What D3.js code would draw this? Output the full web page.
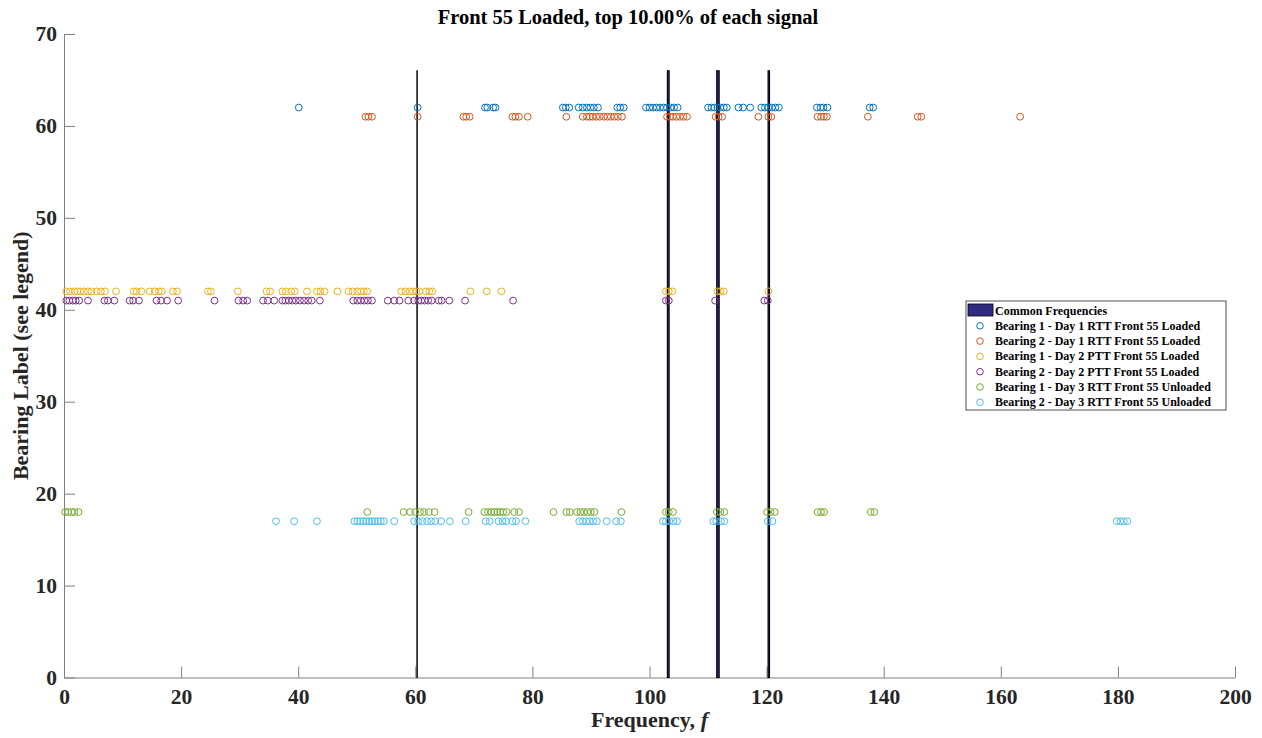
<!DOCTYPE html>
<html>
<head>
<meta charset="utf-8">
<script src="https://cdn.jsdelivr.net/npm/d3@7"></script>
<style>
  body { margin: 0; background: #fff; }
  svg { font-family: "Liberation Serif", "Times New Roman", serif; font-weight: bold; }
</style>
</head>
<body>
<svg id="chart" width="1262" height="738"></svg>
<script>
// Peak frequencies (top 10% of each signal) per bearing/day run
const b1Day1 = [40.1, 60.4, 71.9, 72.3, 73.3, 73.7, 85.2, 85.7, 86.3, 87.9, 88.6, 89.3, 89.9, 90.5, 91.2, 94.5, 95.0, 95.6,
  99.4, 100.0, 100.6, 101.2, 101.8, 102.4, 103.0, 103.6, 104.2, 104.8, 110.0, 110.6, 111.1, 111.6, 112.1, 112.7, 113.2,
  115.2, 116.0, 117.2, 119.1, 119.7, 120.3, 120.9, 121.5, 122.1, 128.6, 129.2, 129.7, 130.4, 137.6, 138.2];
const b2Day1 = [51.5, 52.0, 52.6, 60.4, 68.2, 68.7, 69.3, 76.6, 77.1, 77.7, 79.2, 85.8, 88.6, 89.3, 89.8, 90.3, 90.9,
  91.5, 92.2, 92.8, 93.4, 94.0, 94.6, 95.3, 103.0, 103.5, 104.0, 104.6, 105.2, 105.8, 106.4, 111.3, 111.8, 112.4,
  118.6, 120.3, 120.8, 128.7, 129.3, 129.8, 130.3, 137.3, 145.8, 146.4, 163.3];
const b1Day2 = [0.4, 1.0, 1.8, 2.3, 2.8, 3.4, 4.1, 4.7, 5.6, 6.3, 7.0, 8.9, 11.9, 12.4, 13.2, 14.6, 15.5, 16.2, 16.7,
  18.6, 19.3, 24.6, 25.1, 29.7, 34.6, 35.2, 37.3, 37.9, 38.8, 39.4, 41.5, 43.2, 43.8, 44.5, 46.7, 48.6, 49.3, 50.1,
  50.7, 51.2, 51.8, 57.6, 58.3, 59.0, 59.6, 60.2, 60.7, 61.8, 62.4, 62.9, 69.4, 72.2, 74.7, 102.8, 103.3, 103.9,
  111.6, 112.1, 112.7, 120.3];
const b2Day2 = [0.4, 0.9, 1.5, 2.0, 2.6, 4.1, 6.9, 7.5, 8.6, 11.2, 11.8, 12.8, 15.8, 16.6, 17.6, 19.5, 25.7, 29.8,
  30.6, 31.3, 34.0, 34.8, 35.9, 37.3, 37.8, 38.4, 39.0, 39.6, 40.3, 41.0, 41.7, 42.3, 43.7, 49.4, 50.1, 50.7,
  51.3, 51.9, 52.6, 55.3, 56.4, 57.3, 58.8, 59.8, 60.5, 61.0, 61.6, 62.2, 62.8, 64.0, 64.5, 65.8, 68.5, 76.7,
  102.8, 103.3, 111.2, 119.6, 120.2];
const b1Day3 = [0.2, 0.7, 1.3, 1.8, 2.5, 51.8, 58.0, 59.1, 60.0, 60.8, 61.5, 62.3, 63.3, 69.1, 71.8, 72.4, 73.0,
  73.5, 74.0, 74.5, 75.0, 75.6, 76.9, 77.7, 83.6, 85.8, 86.4, 87.6, 88.2, 88.8, 89.4, 90.0, 90.6, 95.2, 102.8,
  103.3, 104.0, 111.5, 112.1, 112.8, 120.1, 120.7, 121.4, 128.7, 129.3, 129.8, 137.8, 138.4];
const b2Day3 = [36.2, 39.3, 43.2, 49.6, 50.1, 50.6, 51.1, 51.6, 52.1, 52.6, 53.1, 53.6, 54.1, 54.6, 56.4, 59.8, 60.5,
  61.2, 62.0, 62.7, 63.4, 64.4, 65.9, 68.6, 72.0, 72.7, 74.2, 74.9, 75.5, 76.6, 77.2, 78.8, 88.0, 88.6, 89.2,
  89.8, 90.4, 91.0, 92.7, 94.3, 95.1, 102.3, 102.8, 103.4, 104.1, 104.7, 110.9, 111.4, 112.2, 112.8, 120.2,
  121.0, 179.8, 180.4, 181.0, 181.6];

const seriesNames = [
  "Bearing 1 - Day 1 RTT Front 55 Loaded",
  "Bearing 2 - Day 1 RTT Front 55 Loaded",
  "Bearing 1 - Day 2 PTT Front 55 Loaded",
  "Bearing 2 - Day 2 PTT Front 55 Loaded",
  "Bearing 1 - Day 3 RTT Front 55 Unloaded",
  "Bearing 2 - Day 3 RTT Front 55 Unloaded"
];
const seriesLabels = [62, 61, 42, 41, 18, 17];
const seriesValues = [b1Day1, b2Day1, b1Day2, b2Day2, b1Day3, b2Day3];
const seriesColors = ["#0072BD", "#D95319", "#EDB120", "#7E2F8E", "#77AC30", "#4DBEEE"];

// Frequency bands shared by all signals: [low, high]
const commonBands = [[60.28, 60.32], [103.05, 103.35], [111.48, 111.9], [120.25, 120.5]];
const commonBandTop = 66;

const xTicks = [0, 20, 40, 60, 80, 100, 120, 140, 160, 180, 200];
const yTicks = [0, 10, 20, 30, 40, 50, 60, 70];

const svg = d3.select("#chart");
const m = { left: 64, right: 1235, top: 34, bottom: 677.5 };

const x = d3.scaleLinear().domain([0, 200]).range([m.left, m.right]);
const y = d3.scaleLinear().domain([0, 70]).range([m.bottom, m.top]);

// Axes (ticks pointing inward)
const axisColor = "#808080";
const xAxis = svg.append("g").attr("transform", `translate(0,${m.bottom})`)
  .call(d3.axisBottom(x).tickValues(xTicks).tickSizeInner(-11).tickSizeOuter(0).tickPadding(20));
const yAxis = svg.append("g").attr("transform", `translate(${m.left},0)`)
  .call(d3.axisLeft(y).tickValues(yTicks).tickSizeInner(-11).tickSizeOuter(0).tickPadding(7));
[xAxis, yAxis].forEach(a => {
  a.select(".domain").attr("stroke", axisColor).attr("stroke-width", 1);
  a.selectAll(".tick line").attr("stroke", axisColor);
  a.selectAll(".tick text").attr("fill", "#262626").style("font-size", "21.5px")
    .style("font-family", '"Liberation Serif", serif').style("font-weight", "bold");
});
xAxis.selectAll(".tick text").attr("dy", "0.3em");

// Common frequency bands
svg.append("g").selectAll("rect").data(commonBands).join("rect")
  .attr("x", d => x(d[0]))
  .attr("width", d => Math.max(0.3, x(d[1]) - x(d[0])))
  .attr("y", y(commonBandTop))
  .attr("height", y(0) - y(commonBandTop))
  .attr("fill", "#2f2b83")
  .attr("stroke", "#000")
  .attr("stroke-width", 1.1);

// Peak markers
seriesValues.forEach((vals, i) => {
  svg.append("g").selectAll("circle").data(vals).join("circle")
    .attr("cx", d => x(d))
    .attr("cy", y(seriesLabels[i]))
    .attr("r", 3.4)
    .attr("fill", "none")
    .attr("stroke", seriesColors[i])
    .attr("stroke-width", 1);
});

// Title and axis labels
svg.append("text").attr("x", 628).attr("y", 24)
  .attr("text-anchor", "middle").style("font-size", "20.5px").attr("fill", "#000")
  .text("Front 55 Loaded, top 10.00% of each signal");

const xl = svg.append("text").attr("x", (m.left + m.right) / 2).attr("y", 727)
  .attr("text-anchor", "middle").style("font-size", "22px").attr("fill", "#262626");
xl.append("tspan").text("Frequency, ");
xl.append("tspan").style("font-style", "italic").text("f");

svg.append("text")
  .attr("transform", `translate(28,${(m.top + m.bottom) / 2}) rotate(-90)`)
  .attr("text-anchor", "middle").style("font-size", "22px").attr("fill", "#262626")
  .text("Bearing Label (see legend)");

// Legend
const lg = svg.append("g").attr("transform", "translate(966,301)");
lg.append("rect").attr("width", 260).attr("height", 109)
  .attr("fill", "#fff").attr("stroke", "#262626").attr("stroke-width", 0.8);
lg.append("rect").attr("x", 2).attr("y", 3).attr("width", 25).attr("height", 12)
  .attr("fill", "#2f2b83").attr("stroke", "#000").attr("stroke-width", 0.8);
lg.append("text").attr("x", 29).attr("y", 13.5).style("font-size", "12px").attr("fill", "#000")
  .text("Common Frequencies");
seriesNames.forEach((name, i) => {
  const yy = 24.8 + i * 15.3;
  lg.append("circle").attr("cx", 14).attr("cy", yy).attr("r", 3.3)
    .attr("fill", "none").attr("stroke", seriesColors[i]).attr("stroke-width", 1);
  lg.append("text").attr("x", 29).attr("y", yy + 4).style("font-size", "12px").attr("fill", "#000")
    .text(name);
});
</script>
</body>
</html>
